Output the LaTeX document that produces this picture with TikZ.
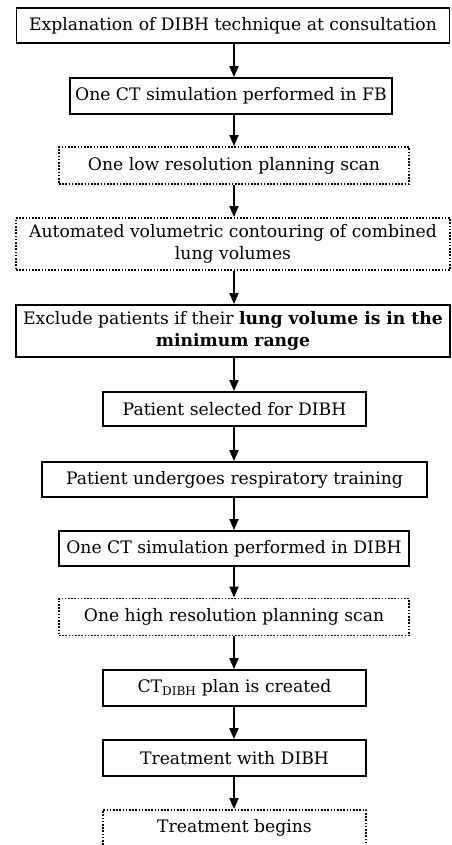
\documentclass[tikz,border=0pt]{standalone}
\usepackage{fontspec}
\setmainfont{DejaVu Serif}
\usetikzlibrary{arrows.meta}

\begin{document}
\begin{tikzpicture}[x=1pt,y=-1pt,line width=1.8pt,
    box/.style={draw,align=center,inner sep=0pt,font=\fontsize{17.2}{22}\selectfont},
    dotbox/.style={box,dash pattern=on 1.6pt off 1.6pt,line width=1.8pt},
    >={Triangle[length=11pt,width=9pt]}]
    \useasboundingbox (0,0) rectangle (451,845);

    \node[box,minimum width=433pt,minimum height=35pt]    (explain)  at (233,25.5)  {Explanation of DIBH technique at consultation};
    \node[box,minimum width=322pt,minimum height=36pt]    (simfb)    at (231,96)    {One CT simulation performed in FB};
    \node[dotbox,minimum width=350pt,minimum height=37pt] (lowres)   at (234,165.5) {One low resolution planning scan};
    \node[dotbox,minimum width=434pt,minimum height=52pt] (contour)  at (233,244)   {Automated volumetric contouring of combined\\lung volumes};
    \node[box,minimum width=434pt,minimum height=52pt]    (exclude)  at (233,331)   {Exclude patients if their \textbf{lung volume is in the}\\\textbf{minimum range}};
    \node[box,minimum width=263pt,minimum height=34pt]    (selected) at (234.5,409) {Patient selected for DIBH};
    \node[box,minimum width=385pt,minimum height=35pt]    (training) at (234.5,479.5) {Patient undergoes respiratory training};
    \node[box,minimum width=350pt,minimum height=35pt]    (simdibh)  at (234,548.5) {One CT simulation performed in DIBH};
    \node[dotbox,minimum width=350pt,minimum height=37pt] (highres)  at (234,617)   {One high resolution planning scan};
    \node[box,minimum width=263pt,minimum height=36pt]    (plan)     at (234.5,688) {CT\textsubscript{DIBH} plan is created};
    \node[box,minimum width=263pt,minimum height=36pt]    (treat)    at (234.5,758) {Treatment with DIBH};
    \node[dotbox,minimum width=263pt,minimum height=36pt] (begins)   at (234.5,828) {Treatment begins};

    % flow top to bottom
    \foreach \a/\b in {explain/simfb,simfb/lowres,lowres/contour,contour/exclude,
                       exclude/selected,selected/training,training/simdibh,simdibh/highres,
                       highres/plan,plan/treat,treat/begins}
      \draw[->] (\a.south -| 234,0) -- (\b.north -| 234,0);
  \end{tikzpicture}
\end{document}
